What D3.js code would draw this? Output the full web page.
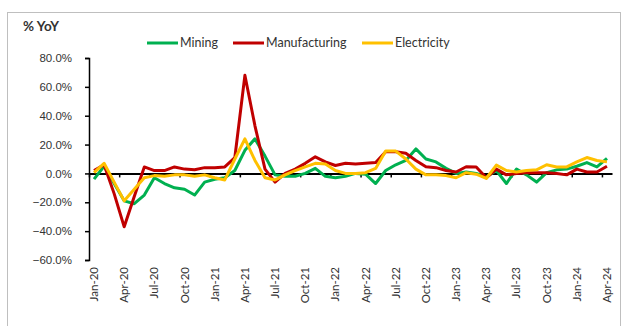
<!DOCTYPE html>
<html>
<head>
  <meta charset="utf-8">
  <title>Industrial production % YoY</title>
  <style>
    body { margin: 0; background: #fff; font-family: Lato, "Open Sans", sans-serif; }
    .axis text { font-size: 11.5px; fill: #333; }
    .legend text { font-size: 12.5px; fill: #333; }
  </style>
</head>
<body>
  <script src="https://cdn.jsdelivr.net/npm/d3@7"></script>
  <script>
    // monthly, Jan-20 .. Apr-24
    var months = ["Jan-20","Feb-20","Mar-20","Apr-20","May-20","Jun-20","Jul-20","Aug-20","Sep-20","Oct-20","Nov-20","Dec-20",
      "Jan-21","Feb-21","Mar-21","Apr-21","May-21","Jun-21","Jul-21","Aug-21","Sep-21","Oct-21","Nov-21","Dec-21",
      "Jan-22","Feb-22","Mar-22","Apr-22","May-22","Jun-22","Jul-22","Aug-22","Sep-22","Oct-22","Nov-22","Dec-22",
      "Jan-23","Feb-23","Mar-23","Apr-23","May-23","Jun-23","Jul-23","Aug-23","Sep-23","Oct-23","Nov-23","Dec-23",
      "Jan-24","Feb-24","Mar-24","Apr-24"];

    var mining = [-4, 5, -7, -19, -21, -15, -3, -7, -10, -11, -15, -6,
      -4, -3, 2, 16, 24, 12, -1, -2, -2, 0, 3.5, -2,
      -3, -2, 0, -0.5, -7, 2, 6, 9, 17, 10, 8, 3.5,
      0, 1, 0, -2.5, 2, -7, 3, -1, -6, 0.5, 2.5, 3,
      5, 7.5, 4.5, 10.5];

    var manufacturing = [2, 6, -14, -37, -16, 4.5, 2, 2, 4.5, 3, 2.5, 4,
      4, 4.5, 11, 68, 33, 3, -6, 0, 3, 7, 11.5, 8,
      5.5, 7, 6.5, 7, 7.5, 15, 15, 14, 9, 4.6, 4, 2,
      1, 4.6, 4.5, -3, 3, -1, 0, 0.5, 0.5, 0.5, 0, -1,
      3, 1, 1, 5];

    var electricity = [0.5, 7, -6, -19, -11, -3, -1.5, -2, -1, -1, -2, -1,
      -3, -4.5, 10, 24, 9, -3, -4.5, -1, 2, 4.5, 7, 6.5,
      2, 0, 0, 0.5, 3.5, 15.5, 15.5, 10, 3, -1, -1, -1.5,
      -3, 0.5, -0.5, -3.5, 5.8, 2, 1, 2, 2.5, 6, 4.5, 4.5,
      8, 11, 9, 8];

    var seriesNames = ["Mining", "Manufacturing", "Electricity"];
    var seriesColors = ["#00b050", "#c00000", "#ffc000"];
    var yTicks = [-0.6, -0.4, -0.2, 0, 0.2, 0.4, 0.6, 0.8];

    var W = 628, H = 326;
    var svg = d3.select("body").append("svg")
      .attr("width", W)
      .attr("height", H);

    // chart frame
    svg.append("rect")
      .attr("x", 7.5).attr("y", 12.5)
      .attr("width", 613).attr("height", 330)
      .attr("fill", "none")
      .attr("stroke", "#bfbfbf");

    var x = d3.scaleLinear()
      .domain([-0.5, months.length - 0.5])
      .range([89, 612]);
    var y = d3.scaleLinear()
      .domain([-0.6, 0.8])
      .range([260, 58]);

    // y axis
    var yAxis = d3.axisLeft(y)
      .tickValues(yTicks)
      .tickFormat(d3.format(".1%"))
      .tickSize(4)
      .tickPadding(13);
    var gy = svg.append("g")
      .attr("class", "axis")
      .attr("transform", "translate(89,0)")
      .call(yAxis);
    gy.selectAll("path, line").attr("stroke", "#000").attr("stroke-width", 1.5);

    // zero line with tick marks between categories
    var boundaries = d3.range(-0.5, months.length, 3);
    var xAxis = d3.axisBottom(x)
      .tickValues(boundaries)
      .tickFormat("")
      .tickSize(4)
      .tickSizeOuter(0);
    var gx = svg.append("g")
      .attr("class", "axis")
      .attr("transform", "translate(0," + y(0) + ")")
      .call(xAxis);
    gx.select(".domain").attr("stroke", "#000").attr("stroke-width", 2);
    gx.selectAll(".tick line").attr("stroke", "#000").attr("stroke-width", 1.5);

    // category labels, every 3 months, rotated
    svg.append("g")
      .attr("class", "axis")
      .selectAll("text")
      .data(months.filter(function (d, i) { return i % 3 == 0; }))
      .join("text")
      .attr("transform", function (d) {
        return "translate(" + (x(months.indexOf(d)) + 4) + ",267) rotate(-90)";
      })
      .attr("text-anchor", "end")
      .text(d => d);

    // lines
    var line = d3.line()
      .x((d, i) => x(i))
      .y(d => y(d / 100));

    [mining, manufacturing, electricity].forEach(function (s, k) {
      svg.append("path")
        .datum(s)
        .attr("fill", "none")
        .attr("stroke", seriesColors[k])
        .attr("stroke-width", 3)
        .attr("stroke-linejoin", "round")
        .attr("d", line);
    });

    // title
    svg.append("text")
      .attr("x", 23).attr("y", 31)
      .attr("font-size", 13.5)
      .attr("font-weight", "bold")
      .attr("fill", "#333")
      .text("% YoY");

    // legend
    var legendX = [147, 233, 362];
    var legend = svg.append("g").attr("class", "legend");
    seriesNames.forEach(function (name, k) {
      legend.append("line")
        .attr("x1", legendX[k]).attr("x2", legendX[k] + 31)
        .attr("y1", 43).attr("y2", 43)
        .attr("stroke", seriesColors[k])
        .attr("stroke-width", 3);
      legend.append("text")
        .attr("x", legendX[k] + 33)
        .attr("y", 47)
        .text(name);
    });
  </script>
</body>
</html>
